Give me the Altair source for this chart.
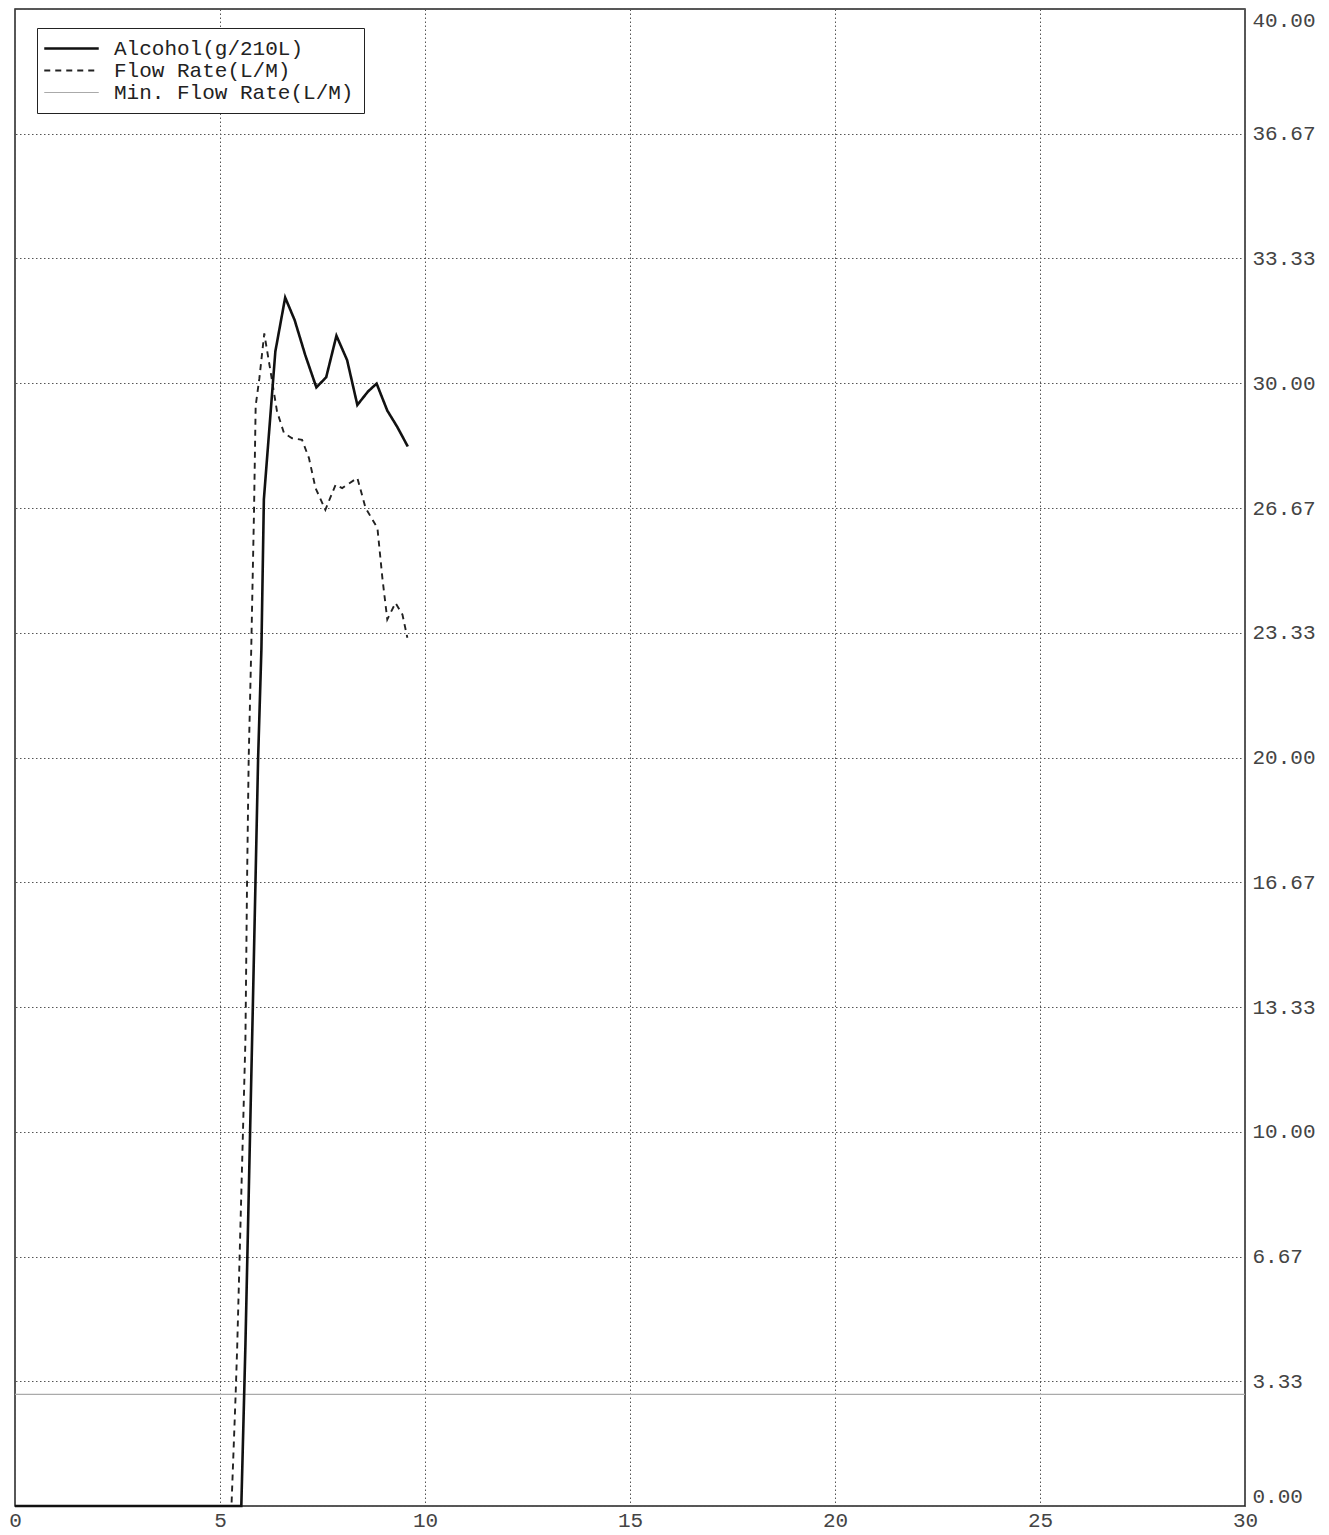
import altair as alt
import pandas as pd

# ---- data ----
alcohol_x = [0, 5.52, 5.62, 5.80, 5.93, 6.01, 6.07, 6.35, 6.59, 6.82, 7.08, 7.35,
             7.59, 7.84, 8.10, 8.35, 8.61, 8.82, 9.08, 9.32, 9.58]
alcohol_y = [0, 0, 4.3, 13.3, 20.0, 22.9, 26.9, 30.85, 32.29, 31.69, 30.75, 29.89,
             30.16, 31.27, 30.62, 29.42, 29.78, 29.99, 29.27, 28.84, 28.31]

flow_x = [0, 5.28, 5.38, 5.42, 5.62, 5.66, 5.70, 5.76, 5.83, 5.87, 5.96, 6.08, 6.25,
          6.39, 6.56, 6.76, 7.00, 7.17, 7.33, 7.57, 7.82, 7.98, 8.35, 8.55, 8.84,
          8.96, 9.08, 9.28, 9.45, 9.57]
flow_y = [0, 0, 2.93, 4.27, 12.45, 16.7, 20.0, 22.8, 26.6, 29.4, 30.13, 31.33, 30.2,
          29.25, 28.67, 28.53, 28.49, 28.0, 27.2, 26.62, 27.29, 27.2, 27.47, 26.67, 26.13,
          24.8, 23.69, 24.13, 23.82, 23.2]

minflow_x = [0, 30]
minflow_y = [2.98, 2.98]

series_names = ["Alcohol(g/210L)", "Flow Rate(L/M)", "Min. Flow Rate(L/M)"]
x_ticks = [0, 5, 10, 15, 20, 25, 30]
y_ticks = [i * 40 / 12 for i in range(13)]

rows = []
for name, xs, ys in [(series_names[2], minflow_x, minflow_y),
                     (series_names[1], flow_x, flow_y),
                     (series_names[0], alcohol_x, alcohol_y)]:
    for i, (a, b) in enumerate(zip(xs, ys)):
        rows.append({"series": name, "t": a, "v": b, "i": i})
df = pd.DataFrame(rows)

FONT = "Liberation Mono"

legend = alt.Legend(
    title=None, orient="none", legendX=22, legendY=19,
    strokeColor="#222", fillColor="white", padding=10,
    labelFont=FONT, labelFontSize=21, labelColor="#222", labelLimit=500,
    symbolType="M-3,0H3", symbolSize=330, symbolOffset=14,
    rowPadding=0, labelOffset=32,
)

chart = alt.Chart(df).mark_line().encode(
    x=alt.X("t:Q", scale=alt.Scale(domain=[0, 30], nice=False, zero=False),
            axis=alt.Axis(values=x_ticks, format="d", title=None, domain=False,
                          ticks=False, labelPadding=3, labelFont=FONT,
                          labelFontSize=21, labelColor="#444",
                          grid=True, gridColor="#555", gridDash=[1.5, 2.5],
                          gridWidth=1, labelFlush=False)),
    y=alt.Y("v:Q", scale=alt.Scale(domain=[0, 40], nice=False),
            axis=alt.Axis(orient="right", values=y_ticks, format=".2f", title=None,
                          domain=False, ticks=False, labelPadding=7, labelFont=FONT,
                          labelFontSize=21, labelColor="#444",
                          grid=True, gridColor="#555", gridDash=[1.5, 2.5],
                          gridWidth=1, labelFlush=True)),
    color=alt.Color("series:N", scale=alt.Scale(domain=series_names,
                                                range=["#111", "#222", "#aaa"]),
                    legend=legend),
    strokeDash=alt.StrokeDash("series:N", scale=alt.Scale(domain=series_names,
                                                          range=[[1, 0], [6, 5], [1, 0]]),
                              legend=legend),
    strokeWidth=alt.StrokeWidth("series:N", scale=alt.Scale(domain=series_names,
                                                            range=[2.6, 1.2, 1.0]),
                                legend=legend),
    detail="series:N",
    order="i:Q",
).properties(
    width=1230, height=1497,
).configure(
    padding={"left": 0, "top": 1, "right": 5, "bottom": 0},
).configure_view(
    stroke="#222", strokeWidth=1.5,
)

chart.save("out.html", embed_options={"renderer": "svg", "actions": False})
